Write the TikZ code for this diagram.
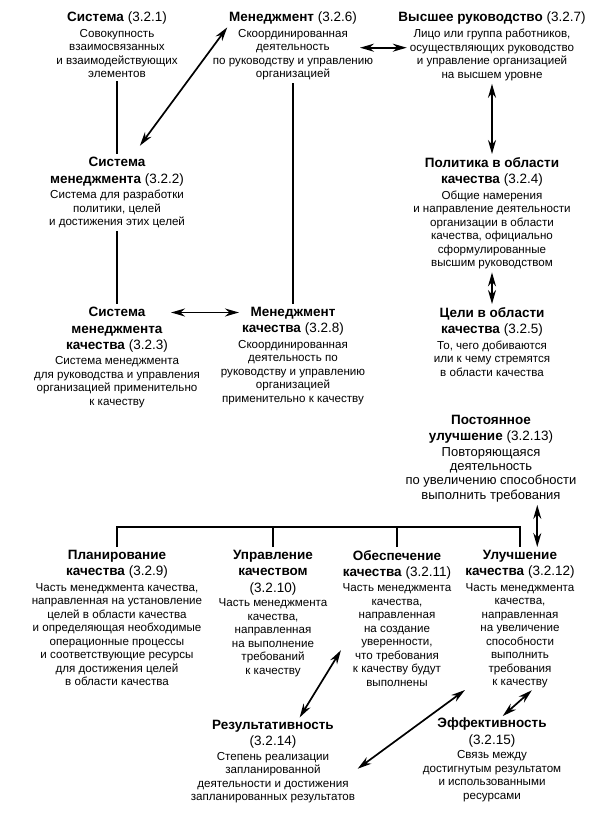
\documentclass[tikz,border=0pt]{standalone}
\usepackage{fontspec}
\setmainfont{Liberation Sans}
\usetikzlibrary{positioning, arrows.meta}

\begin{document}
\begin{tikzpicture}[
    x=1pt, y=-1pt,
    >={Stealth[length=14pt, width=8pt]},
    ttl/.style  = {align=center, inner sep=0pt, anchor=north, font=\fontsize{13.5}{16.5}\selectfont},
    dsc/.style  = {align=center, inner sep=0pt, font=\fontsize{11.6}{13.5}\selectfont},
    big/.style  = {dsc, font=\fontsize{13}{14.3}\selectfont},
    link/.style = {line width=1.7pt, shorten <=3pt, shorten >=3pt},
]

\useasboundingbox (0,0) rectangle (598,819);

% top row
\node[ttl] (sys-t) at (117, 12) {\textbf{Система} (3.2.1)};
\node[dsc, below=4pt of sys-t] (sys) {Совокупность\\взаимосвязанных\\и взаимодействующих\\элементов};

\node[ttl] (mgmt-t) at (293, 12) {\textbf{Менеджмент} (3.2.6)};
\node[dsc, below=4pt of mgmt-t] (mgmt) {Скоординированная\\деятельность\\по руководству и управлению\\организацией};

\node[ttl] (top-t) at (492, 12) {\textbf{Высшее руководство} (3.2.7)};
\node[dsc, below=4pt of top-t] (top) {Лицо или группа работников,\\осуществляющих руководство\\и управление организацией\\на высшем уровне};

% second row
\node[ttl] (sysm-t) at (117, 157) {\textbf{Система}\\\textbf{менеджмента} (3.2.2)};
\node[dsc, below=4pt of sysm-t] (sysm) {Система для разработки\\политики, целей\\и достижения этих целей};

\node[ttl] (pol-t) at (492, 157) {\textbf{Политика в области}\\\textbf{качества} (3.2.4)};
\node[dsc, below=4pt of pol-t] (pol) {Общие намерения\\и направление деятельности\\организации в области\\качества, официально\\сформулированные\\высшим руководством};

% third row
\node[ttl] (qms-t) at (117, 307) {\textbf{Система}\\\textbf{менеджмента}\\\textbf{качества} (3.2.3)};
\node[dsc, below=4pt of qms-t] (qms) {Система менеджмента\\для руководства и управления\\организацией применительно\\к качеству};

\node[ttl] (qmgmt-t) at (293, 307) {\textbf{Менеджмент}\\\textbf{качества} (3.2.8)};
\node[dsc, below=4pt of qmgmt-t] (qmgmt) {Скоординированная\\деятельность по\\руководству и управлению\\организацией\\применительно к качеству};

\node[ttl] (obj-t) at (492, 307) {\textbf{Цели в области}\\\textbf{качества} (3.2.5)};
\node[dsc, below=4pt of obj-t] (obj) {То, чего добиваются\\или к чему стремятся\\в области качества};

% continual improvement
\node[ttl] (cimp-t) at (491, 415) {\textbf{Постоянное}\\\textbf{улучшение} (3.2.13)};
\node[big, below=3pt of cimp-t] (cimp) {Повторяющаяся\\деятельность\\по увеличению способности\\выполнить требования};

% fourth row
\node[ttl] (plan-t) at (117, 550) {\textbf{Планирование}\\\textbf{качества} (3.2.9)};
\node[dsc, below=4pt of plan-t] (plan) {Часть менеджмента качества,\\направленная на установление\\целей в области качества\\и определяющая необходимые\\операционные процессы\\и соответствующие ресурсы\\для достижения целей\\в области качества};

\node[ttl] (ctrl-t) at (273, 550) {\textbf{Управление}\\\textbf{качеством}\\(3.2.10)};
\node[dsc, below=3pt of ctrl-t] (ctrl) {Часть менеджмента\\качества,\\направленная\\на выполнение\\требований\\к качеству};

\node[ttl] (assur-t) at (397, 550) {\textbf{Обеспечение}\\\textbf{качества} (3.2.11)};
\node[dsc, below=4pt of assur-t] (assur) {Часть менеджмента\\качества,\\направленная\\на создание\\уверенности,\\что требования\\к качеству будут\\выполнены};

\node[ttl] (qimp-t) at (520, 550) {\textbf{Улучшение}\\\textbf{качества} (3.2.12)};
\node[dsc, below=4pt of qimp-t] (qimp) {Часть менеджмента\\качества,\\направленная\\на увеличение\\способности\\выполнить\\требования\\к качеству};

% bottom row
\node[ttl] (res-t) at (273, 720) {\textbf{Результативность}\\(3.2.14)};
\node[dsc, below=3pt of res-t] (res) {Степень реализации\\запланированной\\деятельности и достижения\\запланированных результатов};

\node[ttl] (eff-t) at (492, 718) {\textbf{Эффективность}\\(3.2.15)};
\node[dsc, below=3pt of eff-t] (eff) {Связь между\\достигнутым результатом\\и использованными\\ресурсами};

\coordinate (bus) at (0, 527);

% plain links
\draw[link] (sys) -- (sysm-t);
\draw[link] (sysm) -- (qms-t);
\draw[link] (mgmt) -- (qmgmt-t);

% double arrows
\draw[link, <->, shorten >=14pt] (mgmt-t.south west) -- (sysm-t.45);
\draw[link, <->] (mgmt-t.east |- top.175) -- (top.175);
\draw[link, <->] (top) -- (pol-t);
\draw[link, <->] (pol) -- (obj-t);
\draw[link, <->] (qms-t.east |- qmgmt-t.170) -- (qmgmt-t.170);
\draw[link, <->] (qimp-t.40 |- cimp.south) -- (qimp-t.40);

% bus to the four processes
\draw[link] (plan-t.north) -- (plan-t.north |- bus) -- (qimp-t.north |- bus) -- (qimp-t.north);
\draw[link, shorten >=0pt] (ctrl-t) -- (ctrl-t.north |- bus);
\draw[link, shorten >=0pt] (assur-t) -- (assur-t.north |- bus);

% results
\draw[link, <->] (assur.193) -- (res-t.30);
\draw[link, <->] (qimp.225) -- (res.5);
\draw[link, <->] (qimp.-75) -- (eff-t.60);

\end{tikzpicture}
\end{document}
